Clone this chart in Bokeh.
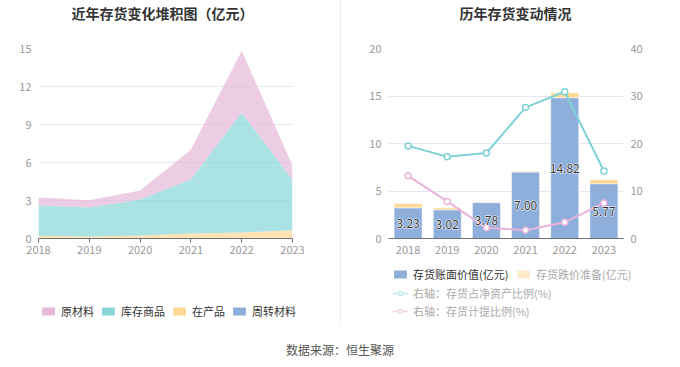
from bokeh.plotting import figure
from bokeh.layouts import row, column
from bokeh.models import (ColumnDataSource, Legend, LegendItem, Label, Range1d,
                          FactorRange, LinearAxis, FixedTicker, Div)
from bokeh.embed import file_html
from bokeh.resources import INLINE
from bokeh.core.properties import value

FONT = "Noto Sans CJK SC"
NAN = float("nan")

# ---------------- data ----------------
years = ["2018", "2019", "2020", "2021", "2022", "2023"]
year_nums = [2018, 2019, 2020, 2021, 2022, 2023]

# left: stacked inventory composition (亿元)
turnover_mat = [0.02, 0.02, 0.02, 0.02, 0.02, 0.02]   # 周转材料
wip = [0.19, 0.14, 0.22, 0.37, 0.45, 0.64]            # 在产品
goods = [2.42, 2.29, 2.84, 4.29, 9.48, 3.97]          # 库存商品
raw_mat = [0.60, 0.57, 0.70, 2.32, 4.87, 1.14]        # 原材料

# right: book value / provision (亿元), ratios (%)
book_value = [3.23, 3.02, 3.78, 7.00, 14.82, 5.77]
provision = [0.45, 0.21, 0.06, 0.09, 0.51, 0.41]
ratio_net_assets = [19.5, 17.2, 18.0, 27.6, 30.9, 14.2]
ratio_provision = [13.2, 7.8, 2.25, 1.75, 3.4, 7.5]

left_ticks = [0, 3, 6, 9, 12, 15]
right_ticks = [0, 5, 10, 15, 20]
right2_ticks = [0, 10, 20, 30, 40]

C_PINK = "#e6b8d8"
C_CYAN = "#88d6d9"
C_YEL = "#fdd894"
C_BLUE = "#8eaedc"
GRID = "#e4e8f3"
AXIS = "#6e7079"
LABEL = "#999999"
DIV_COLOR = "#f0f0f0"


def style_axes(p):
    p.outline_line_color = None
    p.xgrid.visible = False
    p.ygrid.grid_line_color = GRID
    for ax in p.yaxis:
        ax.axis_line_color = None
        ax.major_tick_line_color = None
        ax.minor_tick_line_color = None
        ax.major_tick_out = 0
        ax.major_tick_in = 0
        ax.minor_tick_out = 0
        ax.major_label_text_color = LABEL
        ax.major_label_text_font = FONT
        ax.major_label_text_font_size = "11px"
        ax.major_label_standoff = 7
    for ax in p.xaxis:
        ax.axis_line_color = AXIS
        ax.major_tick_line_color = AXIS
        ax.minor_tick_line_color = None
        ax.major_tick_out = 4
        ax.major_tick_in = 0
        ax.major_label_text_color = LABEL
        ax.major_label_text_font = FONT
        ax.major_label_text_font_size = "11px"
        ax.major_label_standoff = 3


def strip_fig(w, h):
    f = figure(width=w, height=h, output_backend="svg", toolbar_location=None,
               x_range=Range1d(0, 1), y_range=Range1d(0, 1),
               x_axis_location=None, y_axis_location=None, min_border=0)
    f.outline_line_color = None
    f.grid.visible = False
    return f


def title_fig(w, text, cx):
    f = strip_fig(w, 24)
    f.add_layout(Label(x=cx, y=12, x_units="screen", y_units="screen", text=text,
                       text_align="center", text_baseline="middle",
                       text_font=FONT, text_font_size="14px",
                       text_font_style="bold", text_color="#333333"))
    return f


def make_legend(items, loc, color, orientation="horizontal"):
    return Legend(items=items, location=loc, orientation=orientation,
                  glyph_width=16, glyph_height=10, label_height=14,
                  label_text_font=FONT, label_text_font_size="11px",
                  label_text_color=color, spacing=6, label_standoff=5,
                  padding=0, margin=0, border_line_color=None,
                  background_fill_alpha=0)


def dummy_box(f, color):
    return f.quad(left=[NAN], right=[NAN], top=[NAN], bottom=[NAN],
                  fill_color=color, line_color=None)


def divider(h):
    return Div(text="", width=1, height=h, margin=0,
               styles={"background-color": DIV_COLOR})


# ---------------- left chart ----------------
tL = title_fig(340, "近年存货变化堆积图（亿元）", 162)

pL = figure(width=340, height=239, output_backend="svg", toolbar_location=None,
            x_range=Range1d(2018, 2023), y_range=Range1d(0, 15),
            min_border_left=38, min_border_right=48,
            min_border_top=24, min_border_bottom=25)
style_axes(pL)
pL.yaxis.ticker = FixedTicker(ticks=left_ticks)
pL.xaxis.ticker = FixedTicker(ticks=year_nums)

srcL = ColumnDataSource(dict(x=year_nums, zz=turnover_mat, wip=wip,
                             goods=goods, raw=raw_mat))
pL.varea_stack(["zz", "wip", "goods", "raw"], x="x", source=srcL,
               color=[C_BLUE, C_YEL, C_CYAN, C_PINK], alpha=0.7)

lgL = strip_fig(340, 70)
items = []
for name, c in [("原材料", C_PINK), ("库存商品", C_CYAN), ("在产品", C_YEL), ("周转材料", C_BLUE)]:
    items.append(LegendItem(label=name, renderers=[dummy_box(lgL, c)]))
lgL.add_layout(make_legend(items, (40, 14), "#333333"))

# ---------------- right chart ----------------
tR = title_fig(339, "历年存货变动情况", 174)

pR = figure(width=339, height=239, output_backend="svg", toolbar_location=None,
            x_range=FactorRange(*years), y_range=Range1d(0, 20),
            min_border_left=47, min_border_right=57,
            min_border_top=24, min_border_bottom=25)
pR.extra_y_ranges = {"r": Range1d(0, 40)}
pR.add_layout(LinearAxis(y_range_name="r", ticker=FixedTicker(ticks=right2_ticks)), "right")
style_axes(pR)
pR.yaxis[0].ticker = FixedTicker(ticks=right_ticks)
pR.xaxis.major_tick_line_color = None

srcR = ColumnDataSource(dict(year=years, book=book_value, prov=provision,
                             mid=[v / 2 for v in book_value],
                             lab=[f"{v:.2f}" for v in book_value],
                             r1=ratio_net_assets, r2=ratio_provision))
pR.vbar_stack(["book", "prov"], x="year", width=0.715, source=srcR,
              color=[C_BLUE, C_YEL], line_color="white", line_width=0.5)

C_LCYAN = "#7fd3d7"
C_LPINK = "#e9b3dc"
pR.line(x="year", y="r1", source=srcR, y_range_name="r", color=C_LCYAN, line_width=2)
pR.scatter(x="year", y="r1", source=srcR, y_range_name="r", size=6,
           fill_color="white", line_color=C_LCYAN, line_width=1.5)
pR.line(x="year", y="r2", source=srcR, y_range_name="r", color=C_LPINK, line_width=2)
pR.scatter(x="year", y="r2", source=srcR, y_range_name="r", size=6,
           fill_color="white", line_color=C_LPINK, line_width=1.5)

# value labels: white halo under dark text
pR.text(x="year", y="mid", text="lab", source=srcR, text_align="center",
        text_baseline="middle", text_font=value(FONT), text_font_size="12px",
        text_color="white", text_outline_color="white")
pR.text(x="year", y="mid", text="lab", source=srcR, text_align="center",
        text_baseline="middle", text_font=value(FONT), text_font_size="12px",
        text_color="#333333")

lgR = strip_fig(339, 70)
d_book = dummy_box(lgR, C_BLUE)
d_prov = dummy_box(lgR, "#fdebcc")
d_c1 = lgR.line(x=[NAN], y=[NAN], color="#bde9eb", line_width=1.5)
d_c2 = lgR.scatter(x=[NAN], y=[NAN], size=9, fill_color="white", line_color="#bde9eb", line_width=1.5)
d_p1 = lgR.line(x=[NAN], y=[NAN], color="#f3d4ea", line_width=1.5)
d_p2 = lgR.scatter(x=[NAN], y=[NAN], size=9, fill_color="white", line_color="#f3d4ea", line_width=1.5)

lgR.add_layout(make_legend([LegendItem(label="存货账面价值(亿元)", renderers=[d_book])], (51, 51), "#333333"))
lgR.add_layout(make_legend([LegendItem(label="存货跌价准备(亿元)", renderers=[d_prov])], (174, 51), "#aaaaaa"))
lgR.add_layout(make_legend([LegendItem(label="右轴：存货占净资产比例(%)", renderers=[d_c1, d_c2])], (51, 32), "#aaaaaa"))
lgR.add_layout(make_legend([LegendItem(label="右轴：存货计提比例(%)", renderers=[d_p1, d_p2])], (51, 14), "#aaaaaa"))

src_div = Div(text='<div style="width:680px;text-align:center;font-size:12px;'
                   'color:#555;font-family:\'Noto Sans CJK SC\';line-height:34px;">'
                   '数据来源：恒生聚源</div>', width=680, height=34, margin=0)

layout = column(row(tL, divider(24), tR),
                row(pL, divider(239), pR),
                row(lgL, divider(62), lgR),
                src_div)
open("out.html", "w").write(file_html(layout, INLINE))
